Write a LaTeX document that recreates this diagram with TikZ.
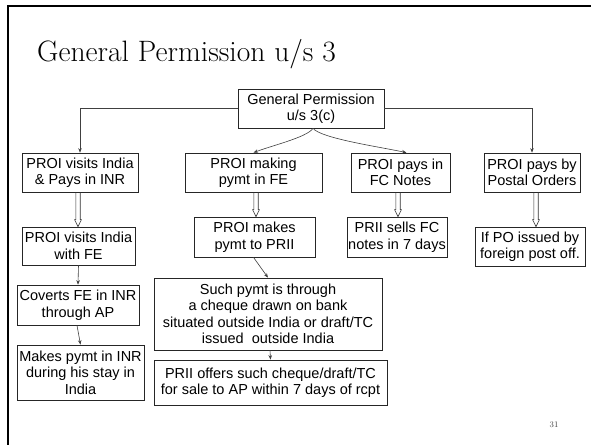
\documentclass[tikz,border=0pt]{standalone}
\usepackage{fontspec}
\newfontfamily\boxfont{Liberation Sans}
\usetikzlibrary{calc,arrows.meta}

\tikzset{
  pbox/.style={draw=black!85, line width=0.7pt, fill=white, align=center,
    inner sep=1pt, font=\boxfont\fontsize{14.5}{16.5}\selectfont},
  arr/.style={draw=black!75, line width=0.6pt, -{Stealth[length=4.5pt,width=3.5pt]}},
  hollow/.style={draw=black!80, line width=0.6pt},
  frameline/.style={line width=2.2pt, line cap=rect},
}

% block arrow with a narrow shaft: source node, target node, sideways shift (pt)
\newcommand\hollowarrow[3]{%
  \draw[hollow] let \p1=([xshift=#3pt]#1.south), \p2=(#2.north) in
    (\x1-2.2pt,\y1) -- (\x1-2.2pt,\y2+7pt) -- (\x1-3.4pt,\y2+7pt) -- (\x1,\y2)
    -- (\x1+3.4pt,\y2+7pt) -- (\x1+2.2pt,\y2+7pt) -- (\x1+2.2pt,\y1);}

\begin{document}
\begin{tikzpicture}[x=1pt,y=-1pt]
  \useasboundingbox (0,0) rectangle (591,444);
  \fill[white] (0,0) rectangle (591,444);

  % slide frame
  \draw[frameline] (8,446) -- (8,6) -- (593,6);

  % title and page number
  \node[anchor=base west, inner sep=0pt, font=\fontsize{29.5}{34}\selectfont] (title) at (37,62) {General Permission u/s 3};
  \node[anchor=base, inner sep=0pt, font=\fontsize{8.5}{9}\selectfont, text=black!75] (pageno) at (554,427) {31};

  % root
  \node[pbox, minimum width=146pt, minimum height=39pt] (top) at (311,108.5) {General Permission\\u/s 3(c)};

  % first row
  \node[pbox, minimum width=116pt, minimum height=39pt] (A) at (80,172.5) {PROI visits India\\\& Pays in INR};
  \node[pbox, minimum width=137pt, minimum height=39pt] (B) at (253.5,172.5) {PROI making\\pymt in FE};
  \node[pbox, minimum width=99pt, minimum height=39pt] (C) at (400.5,172.5) {PROI pays in\\FC Notes};
  \node[pbox, minimum width=96pt, minimum height=39pt] (D) at (532,172.5) {PROI pays by\\Postal Orders};

  % second row
  \node[pbox, minimum width=113pt, minimum height=38pt] (A2) at (78.5,246) {PROI visits India\\with FE};
  \node[pbox, minimum width=121pt, minimum height=40pt] (B2) at (254.5,237) {PROI makes\\pymt to PRII};
  \node[pbox, minimum width=100pt, minimum height=40pt] (C2) at (397,237) {PRII sells FC\\notes in 7 days};
  \node[pbox, minimum width=110pt, minimum height=39pt] (D2) at (530,246.5) {If PO issued by\\foreign post off.};

  % lower boxes
  \node[pbox, minimum width=122pt, minimum height=40pt] (A3) at (78,305) {Coverts FE in INR\\through AP};
  \node[pbox, minimum width=127pt, minimum height=55pt] (A4) at (80.5,372.5) {Makes pymt in INR\\during his stay in\\India};
  \node[pbox, minimum width=228pt, minimum height=72pt] (B3) at (268,314) {Such pymt is through\\a cheque drawn on bank\\situated outside India or draft/TC\\issued\ \ outside India};
  \node[pbox, minimum width=233pt, minimum height=45pt] (B4) at (270.5,382.5) {PRII offers such cheque/draft/TC\\for sale to AP within 7 days of rcpt};

  % connectors from the root
  \draw[arr] (top.west) -| (A.north);
  \draw[arr] (top.east) -| (D.north);
  \draw[arr] ([xshift=2pt]top.south) .. controls +(-6,9) and +(18,-7) .. (B.north);
  \draw[arr] ([xshift=2pt]top.south) .. controls +(8,10) and +(-28,-6) .. ([xshift=6pt]C.north);

  % block arrows
  \hollowarrow{A}{A2}{-2}
  \hollowarrow{B}{B2}{2.5}
  \hollowarrow{C}{C2}{-2.5}
  \hollowarrow{D}{D2}{4}

  % plain arrows
  \draw[arr] (A2.south) -- (A3.north);
  \draw[arr] ([xshift=-1pt]A3.south) -- (A4.north);
  \draw[arr] ([xshift=-1pt]B2.south) -- (B3.north);
  \draw[arr] ([xshift=2pt]B3.south) -- (B4.north);
\end{tikzpicture}
\end{document}
